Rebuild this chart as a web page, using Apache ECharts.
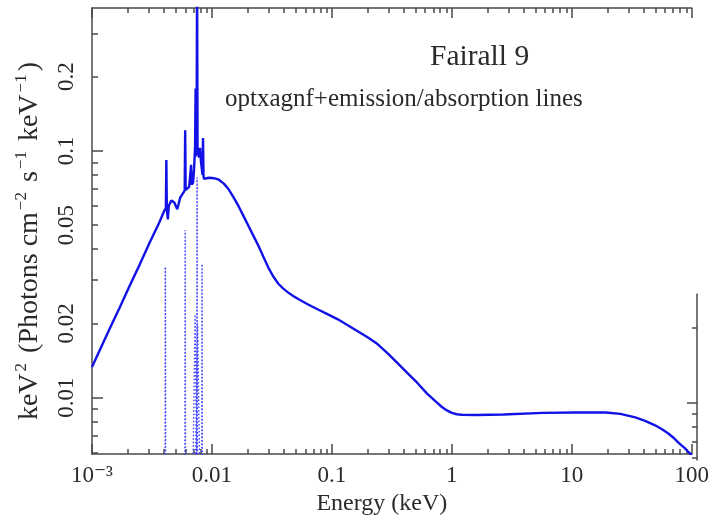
<!DOCTYPE html>
<html>
<head>
<meta charset="utf-8">
<script src="https://cdn.jsdelivr.net/npm/echarts@6/dist/echarts.min.js"></script>
<style>
  html, body { margin: 0; padding: 0; background: #ffffff; }
  #chart { width: 712px; height: 521px; }
</style>
</head>
<body>
<div id="chart"></div>
<script>
// Total model spectrum: energy (keV) and E^2 F(E) (keV^2 photons cm^-2 s^-1 keV^-1)
const energyKeV = [
  0.001, 0.001409, 0.001703, 0.002061, 0.002493, 0.003014, 0.003647, 0.004012, 0.004128,
  0.004167, 0.004208, 0.004289, 0.004370, 0.004583, 0.004853, 0.005138, 0.005438, 0.005925,
  0.005982, 0.006040, 0.006455, 0.006644, 0.006706, 0.006771, 0.006966, 0.007099, 0.007236,
  0.007305, 0.007375, 0.007445, 0.007516, 0.007588, 0.007661, 0.007808, 0.007957, 0.008110,
  0.008347, 0.008424, 0.008506, 0.008587, 0.009445, 0.01039, 0.01142, 0.01257, 0.01382,
  0.01520, 0.01671, 0.01839, 0.02022, 0.02224, 0.02445, 0.02690, 0.02958, 0.03254,
  0.03578, 0.03936, 0.04329, 0.04762, 0.05236, 0.06334, 0.07661, 0.09266, 0.1121,
  0.1356, 0.1640, 0.1984, 0.2400, 0.2903, 0.3511, 0.4247, 0.5138, 0.6215,
  0.7516, 0.8267, 0.9093, 1.000, 1.100, 1.209, 1.609, 2.690, 5.759,
  10.79, 19.10, 25.41, 33.80, 40.89, 49.45, 56.50, 63.36, 69.66,
  76.61, 82.67, 87.52, 94.46, 100
];
const modelFlux = [
  0.01332, 0.01910, 0.02319, 0.02843, 0.03453, 0.04231, 0.05138, 0.05741, 0.0585,
  0.0920, 0.0580, 0.0528, 0.0600, 0.0630, 0.0618, 0.0580, 0.0647, 0.0691,
  0.1214, 0.0695, 0.0715, 0.0720, 0.0879, 0.0730, 0.0745, 0.0850, 0.1047,
  0.179, 0.0950, 0.1000, 0.55, 0.0980, 0.1030, 0.0940, 0.1030, 0.0900,
  0.0800, 0.1128, 0.0790, 0.07718, 0.07790, 0.07754, 0.07647, 0.07373, 0.06973,
  0.06474, 0.05959, 0.05431, 0.04953, 0.04515, 0.04116, 0.03718, 0.03358, 0.03090,
  0.02895, 0.02765, 0.02665, 0.02580, 0.02509, 0.02385, 0.02277, 0.02175, 0.02077,
  0.01964, 0.01858, 0.01758, 0.01648, 0.01516, 0.01382, 0.01260, 0.01149, 0.01038,
  0.009547, 0.009158, 0.008869, 0.008666, 0.008560, 0.008520, 0.008505, 0.008545, 0.008666,
  0.008706, 0.008706, 0.008585, 0.008313, 0.008043, 0.007719, 0.007438, 0.007167, 0.006908,
  0.006597, 0.006387, 0.006240, 0.005991, 0.005850
];

// Individual line components (dotted); null separates one component from the next
const componentEnergy = [
  0.004050, 0.004089, 0.004128, null,
  0.005925, 0.005982, 0.006040, null,
  0.007445, 0.007516, 0.007588, null,
  0.008187, 0.008267, 0.008347, null,
  0.006900, 0.007236, 0.007516, null,
  0.007236, 0.007588, 0.007957
];
const componentFlux = [
  0.001, 0.0339, 0.001, null,
  0.001, 0.0477, 0.001, null,
  0.001, 0.0780, 0.001, null,
  0.001, 0.0348, 0.001, null,
  0.004, 0.0217, 0.004, null,
  0.004, 0.0200, 0.004
];

// Axis ranges and tick labels
const xRange = [0.001, 100];
const yRange = [0.0059, 0.38];
const xDecades = [0.001, 0.01, 0.1, 1, 10, 100];
const xTickLabels = ['10\u207B\u00B3', '0.01', '0.1', '1', '10', '100'];
const yDecades = [0.01, 0.1];
const yLabelValues = [0.01, 0.02, 0.05, 0.1, 0.2];
const yTickLabels = ['0.01', '0.02', '0.05', '0.1', '0.2'];
const rightAxisTop = 0.0272;   // the right-hand frame only runs up to here

const lg = Math.log10;
const FONT = '"Liberation Serif", "Times New Roman", "DejaVu Serif", serif';
const INK = '#2a2a2a';
const FRAME = '#4a4a4a';

// plot box in pixels
const PLOT = { left: 92, right: 15, top: 8, bottom: 61, height: 521 - 8 - 61 };

// minor tick positions at 2..9 within each decade
function minorTicks(lo, hi) {
  const out = [];
  for (let d = Math.floor(lg(lo)); d <= Math.ceil(lg(hi)); d++) {
    for (let k = 2; k <= 9; k++) {
      const v = k * Math.pow(10, d);
      if (v >= lo * 0.999 && v <= hi * 1.001) out.push(lg(v));
    }
  }
  return out;
}

function labelFor(values, labels) {
  return function (v) {
    for (let i = 0; i < values.length; i++) {
      if (Math.abs(lg(values[i]) - v) < 1e-6) return labels[i];
    }
    return '';
  };
}

const modelData = energyKeV.map((e, i) => [lg(e), lg(modelFlux[i])]);
const componentData = componentEnergy.map((e, i) =>
  e === null ? ['-', '-'] : [lg(e), lg(componentFlux[i])]);

const xMin = lg(xRange[0]), xMax = lg(xRange[1]);
const yMin = lg(yRange[0]), yMax = lg(yRange[1]);
const yTopRight = lg(rightAxisTop);
// second grid carries the short right-hand frame segment on the same scale
const rightGridTop = PLOT.top + PLOT.height * (yMax - yTopRight) / (yMax - yMin);

function xAx(opts) {
  return Object.assign({
    type: 'value', gridIndex: 0, min: xMin, max: xMax,
    splitLine: { show: false },
    axisLine: { show: false, onZero: false },
    axisTick: { show: false },
    axisLabel: { show: false }
  }, opts);
}
function yAx(opts) {
  return Object.assign({
    type: 'value', gridIndex: 0, min: yMin, max: yMax,
    splitLine: { show: false },
    axisLine: { show: false, onZero: false },
    axisTick: { show: false },
    axisLabel: { show: false }
  }, opts);
}
const lineSty = { show: true, onZero: false, lineStyle: { color: FRAME, width: 1.5 } };
function ticks(values, len) {
  return { show: true, inside: true, length: len, customValues: values,
           lineStyle: { color: FRAME, width: 1.5 } };
}

const xMajor = xDecades.map(lg);
const xMinor = minorTicks(xRange[0], xRange[1]);
const yMajor = yDecades.map(lg);
const yMinor = minorTicks(yRange[0], yRange[1]).filter(v => yMajor.every(m => Math.abs(m - v) > 1e-6));

// y title: base text with raised, smaller exponents
const baseName = { fontSize: 28, fontFamily: FONT, color: INK, lineHeight: 34 };
const supName = { fontSize: 17, fontFamily: FONT, color: INK, lineHeight: 16,
                  verticalAlign: 'top', padding: [0, 3, 0, 2] };

const chart = echarts.init(document.getElementById('chart'), null, { renderer: 'canvas' });
chart.setOption({
  animation: false,
  backgroundColor: '#ffffff',
  textStyle: { fontFamily: FONT },
  title: [
    { text: 'Fairall 9', left: 430, top: 42, padding: 0,
      textStyle: { fontFamily: FONT, fontSize: 29.5, fontWeight: 'normal', color: INK } },
    { text: 'optxagnf+emission/absorption lines', left: 225, top: 87, padding: 0,
      textStyle: { fontFamily: FONT, fontSize: 25, fontWeight: 'normal', color: INK } }
  ],
  grid: [
    { left: PLOT.left, right: PLOT.right, top: PLOT.top, bottom: PLOT.bottom },
    { left: PLOT.left, right: PLOT.right, top: rightGridTop, bottom: PLOT.bottom }
  ],
  xAxis: [
    xAx({ position: 'bottom', axisLine: lineSty, axisTick: ticks(xMajor, 10),
      axisLabel: { show: true, customValues: xMajor, formatter: labelFor(xDecades, xTickLabels),
                   margin: 10, fontSize: 23, color: INK, fontFamily: FONT },
      name: 'Energy (keV)', nameLocation: 'middle', nameGap: 34,
      nameTextStyle: { fontSize: 24, color: INK, fontFamily: FONT, padding: [0, 20, 0, 0] } }),
    xAx({ position: 'bottom', axisTick: ticks(xMinor, 5) }),
    xAx({ position: 'top', axisLine: lineSty, axisTick: ticks(xMajor, 10) }),
    xAx({ position: 'top', axisTick: ticks(xMinor, 5) }),
    { type: 'value', gridIndex: 1, min: xMin, max: xMax, show: false }
  ],
  yAxis: [
    yAx({ position: 'left', axisLine: lineSty, axisTick: ticks(yMajor, 11),
      axisLabel: { show: true, customValues: yLabelValues.map(lg), formatter: labelFor(yLabelValues, yTickLabels),
                   rotate: 90, margin: 14, fontSize: 23, color: INK, fontFamily: FONT },
      name: '{b|keV}{s|2}{b| (Photons cm}{s|\u22122}{b| s}{s|\u22121}{b| keV}{s|\u22121}{b|)}',
      nameLocation: 'middle', nameGap: 45,
      nameTextStyle: { padding: [0, 20, 0, 0], rich: { b: baseName, s: supName } } }),
    yAx({ position: 'left', axisTick: ticks(yMinor, 6) }),
    { type: 'value', gridIndex: 1, position: 'right', min: yMin, max: yTopRight,
      splitLine: { show: false }, axisLabel: { show: false },
      axisLine: lineSty, axisTick: ticks(yMajor.filter(v => v <= yTopRight), 10) },
    { type: 'value', gridIndex: 1, position: 'right', min: yMin, max: yTopRight,
      splitLine: { show: false }, axisLabel: { show: false },
      axisLine: { show: false, onZero: false },
      axisTick: ticks(yMinor.filter(v => v <= yTopRight), 5) }
  ],
  series: [
    {
      name: 'line components', type: 'line', xAxisIndex: 0, yAxisIndex: 0,
      data: componentData, showSymbol: false, connectNulls: false, clip: true,
      lineStyle: { color: '#4040ff', width: 1.4, type: [1.5, 2] }, z: 2
    },
    {
      name: 'total model', type: 'line', xAxisIndex: 0, yAxisIndex: 0,
      data: modelData, showSymbol: false, clip: true,
      lineStyle: { color: '#1212e6', width: 2.4 }, z: 3
    }
  ]
});
</script>
</body>
</html>
